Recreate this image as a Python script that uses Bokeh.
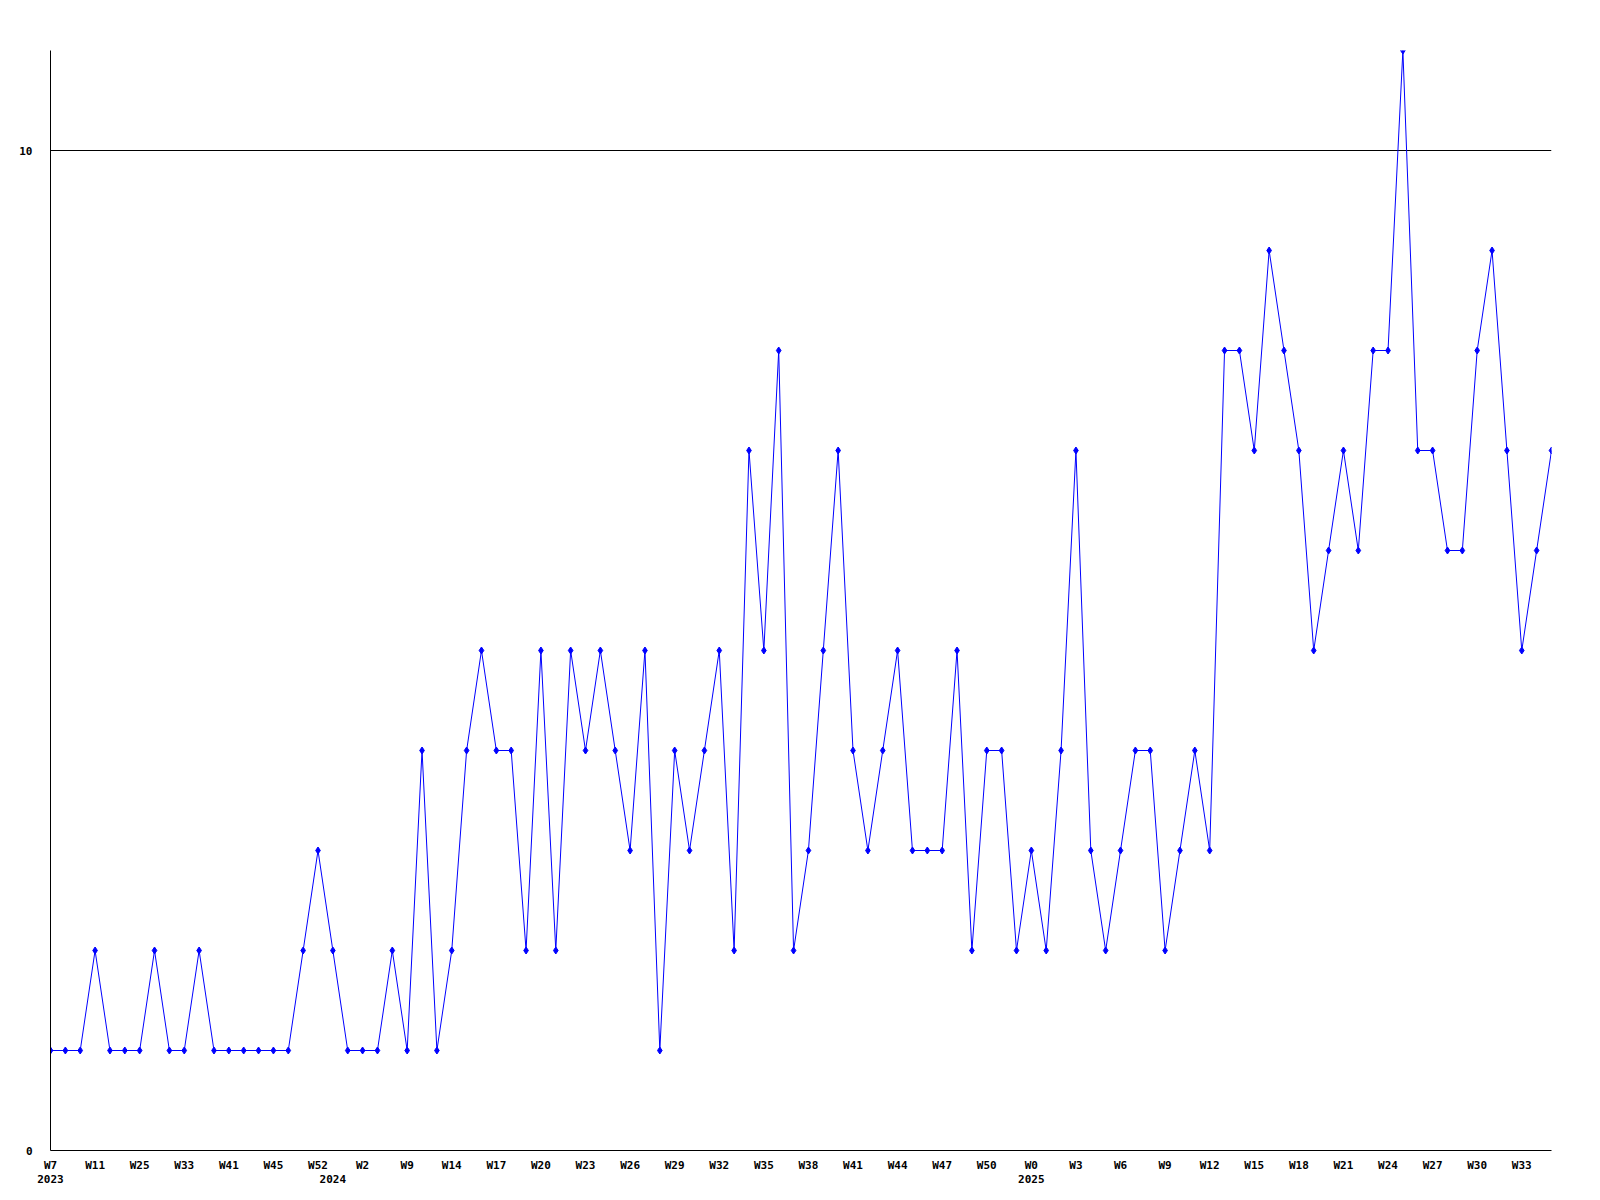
from bokeh.plotting import figure
from bokeh.models import Range1d, FixedTicker, LinearAxis, ColumnDataSource
from bokeh.embed import file_html
from bokeh.resources import INLINE

# ---- data ----
values = [
    1, 1, 1, 2, 1, 1, 1, 2, 1, 1,
    2, 1, 1, 1, 1, 1, 1, 2, 3, 2,
    1, 1, 1, 2, 1, 4, 1, 2, 4, 5,
    4, 4, 2, 5, 2, 5, 4, 5, 4, 3,
    5, 1, 4, 3, 4, 5, 2, 7, 5, 8,
    2, 3, 5, 7, 4, 3, 4, 5, 3, 3,
    3, 5, 2, 4, 4, 2, 3, 2, 4, 7,
    3, 2, 3, 4, 4, 2, 3, 4, 3, 8,
    8, 7, 9, 8, 7, 5, 6, 7, 6, 8,
    8, 11, 7, 7, 6, 6, 8, 9, 7, 5,
    6, 7,
]
week_labels = ["W7", "W11", "W25", "W33", "W41", "W45", "W52", "W2", "W9", "W14",
               "W17", "W20", "W23", "W26", "W29", "W32", "W35", "W38", "W41", "W44",
               "W47", "W50", "W0", "W3", "W6", "W9", "W12", "W15", "W18", "W21",
               "W24", "W27", "W30", "W33"]
week_label_every = 3
year_labels = ["2023", "2024", "2025"]
year_start_index = [0, 19, 66]
y_ticks = [0, 10]

idx = list(range(len(values)))
src = ColumnDataSource(data=dict(x=idx, y=values))

FONT = "DejaVu Sans Mono"
FSIZE = "11px"

p = figure(
    frame_width=1501, frame_height=1100,
    x_range=Range1d(0, len(values) - 1), y_range=Range1d(0, 11),
    output_backend="svg", toolbar_location=None,
    min_border_left=50, min_border_top=50, min_border_right=45, min_border_bottom=46,
    background_fill_color="white", border_fill_color="white",
)
p.outline_line_color = None
p.xgrid.visible = False
p.ygrid.ticker = FixedTicker(ticks=[10])
p.ygrid.grid_line_color = "black"
p.ygrid.grid_line_width = 1

# y axis
p.yaxis.ticker = FixedTicker(ticks=y_ticks)
p.yaxis.axis_line_color = "black"
p.yaxis.major_tick_line_color = None
p.yaxis.minor_tick_line_color = None
p.yaxis.major_tick_out = 0
p.yaxis.major_tick_in = 0
p.yaxis.major_label_standoff = 18
p.yaxis.major_label_text_align = "left"
p.yaxis.major_label_text_font = FONT
p.yaxis.major_label_text_font_style = "bold"
p.yaxis.major_label_text_font_size = FSIZE
p.yaxis.major_label_text_color = "black"

# x axis (weeks)
tick_pos = [i * week_label_every for i in range(len(week_labels))]
xa = p.xaxis[0]
xa.ticker = FixedTicker(ticks=tick_pos)
xa.major_label_overrides = {t: lab for t, lab in zip(tick_pos, week_labels)}
xa.axis_line_color = "black"
xa.major_tick_line_color = None
xa.minor_tick_line_color = None
xa.major_tick_out = 0
xa.major_tick_in = 0
xa.major_label_standoff = 8
xa.major_label_text_font = FONT
xa.major_label_text_font_style = "bold"
xa.major_label_text_font_size = FSIZE
xa.major_label_text_color = "black"

# second x axis (years)
ya = LinearAxis(
    ticker=FixedTicker(ticks=year_start_index),
    major_label_overrides={t: lab for t, lab in zip(year_start_index, year_labels)},
    axis_line_color=None, major_tick_line_color=None, minor_tick_line_color=None,
    major_tick_out=0, major_tick_in=0, major_label_standoff=0,
    major_label_text_font=FONT, major_label_text_font_style="bold",
    major_label_text_font_size=FSIZE, major_label_text_color="black",
)
p.add_layout(ya, "below")

p.line("x", "y", source=src, line_color="#0000FF", line_width=1)
p.scatter("x", "y", source=src, marker="diamond", size=7,
          fill_color="#0000FF", line_color="#0000FF", line_width=1)

open("out.html", "w").write(file_html(p, INLINE))
